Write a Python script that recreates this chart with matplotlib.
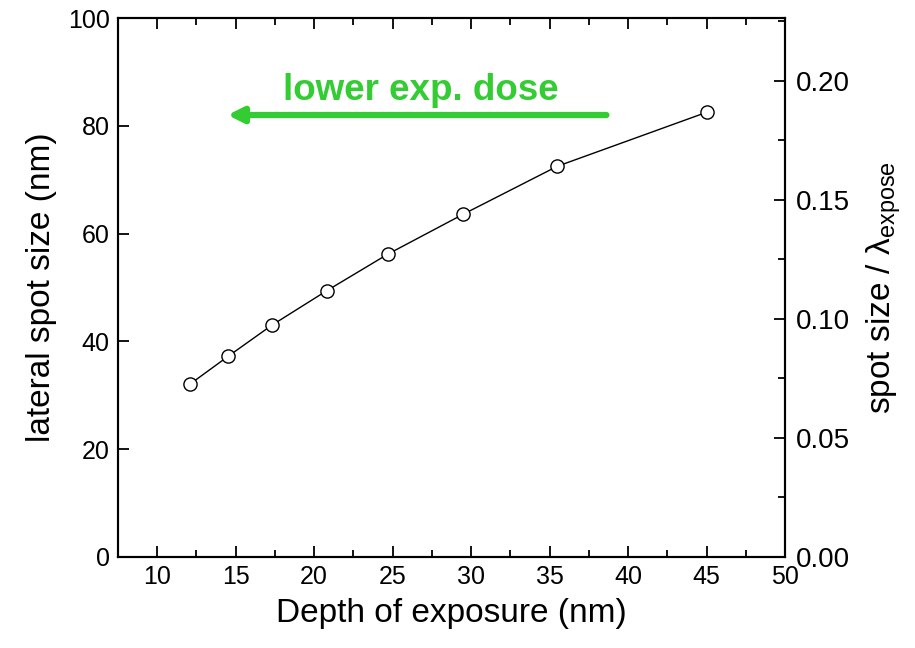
import matplotlib
matplotlib.use("Agg")
import matplotlib.pyplot as plt

# depth of exposure (nm) vs lateral spot size (nm)
depth = [12.1, 14.5, 17.3, 20.8, 24.7, 29.5, 35.5, 45.0]
spot = [32.1, 37.2, 43.0, 49.4, 56.2, 63.6, 72.5, 82.5]
wavelength = 442.0  # nm, for the right axis

plt.rcParams['font.family'] = ['Liberation Sans', 'DejaVu Sans']

fig = plt.figure(figsize=(9.15, 6.48), dpi=100)
ax = fig.add_axes([118 / 915, 1 - 557 / 648, (785 - 118) / 915, (557 - 18) / 648])

ax.plot(depth, spot, color='black', lw=1, marker='o', ms=9.5,
        mfc='white', mec='black', mew=1)

ax.set_xlim(7.5, 50)
ax.set_ylim(0, 100)
ax.set_xticks([10, 15, 20, 25, 30, 35, 40, 45, 50])
ax.set_xticks([12.5, 17.5, 22.5, 27.5, 32.5, 37.5, 42.5, 47.5], minor=True)
ax.set_yticks([0, 20, 40, 60, 80, 100])
ax.tick_params(axis='x', which='both', direction='in', top=True, labelsize=18, pad=6)
ax.tick_params(axis='x', which='major', length=8, width=1.3)
ax.tick_params(axis='x', which='minor', length=5, width=1.3)
ax.tick_params(axis='y', which='major', direction='in', length=8, width=1.3,
               labelsize=18, right=False, pad=6)
for s in ax.spines.values():
    s.set_linewidth(1.5)

ax.set_xlabel('Depth of exposure (nm)', fontsize=24, labelpad=6)
ax.set_ylabel('lateral spot size (nm)', fontsize=24, labelpad=8)

ax2 = ax.twinx()
ax2.set_ylim(0, 100 / wavelength)
ax2.set_yticks([0.00, 0.05, 0.10, 0.15, 0.20])
ax2.set_yticklabels(['0.00', '0.05', '0.10', '0.15', '0.20'])
ax2.set_yticks([0.025, 0.075, 0.125, 0.175, 0.225], minor=True)
ax2.tick_params(axis='y', which='both', direction='in', labelsize=20, width=1.3, pad=8)
ax2.tick_params(axis='y', which='major', length=8)
ax2.tick_params(axis='y', which='minor', length=5)
ax2.set_ylabel('spot size / \u03bb$_{\\mathregular{expose}}$', fontsize=24, labelpad=10)
for s in ax2.spines.values():
    s.set_linewidth(1.5)

green = '#33cc33'
ax.annotate('', xy=(14.3, 82.0), xytext=(38.8, 82.0),
            arrowprops=dict(arrowstyle='-|>,head_length=0.9,head_width=0.45',
                            color=green, lw=4.5))
ax.text(26.8, 86.6, 'lower exp. dose', color=green, fontsize=26.5,
        fontweight='bold', ha='center', va='center')

fig.savefig('out.png', dpi=100)
